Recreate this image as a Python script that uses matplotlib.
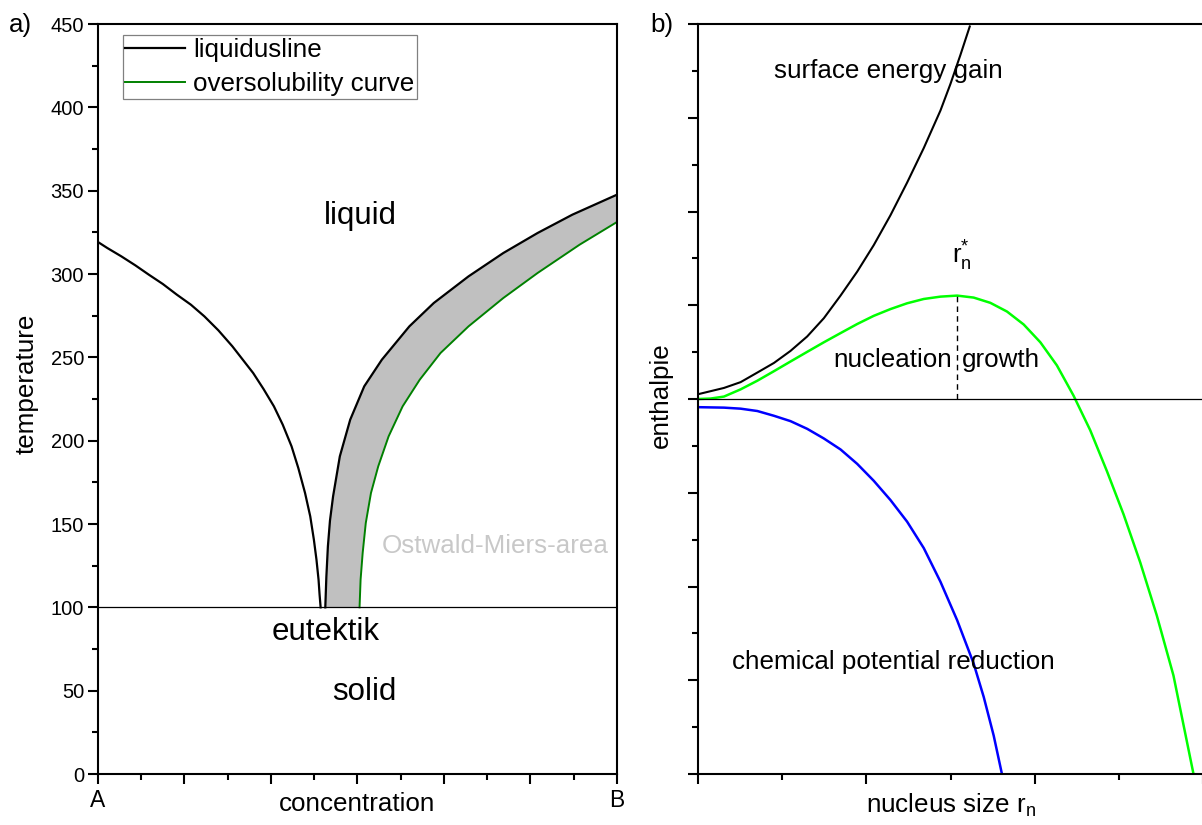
import matplotlib.pyplot as plt
import numpy as np
from matplotlib.ticker import MultipleLocator

plt.rcParams['font.family'] = ['Liberation Sans', 'DejaVu Sans']
plt.rcParams['mathtext.default'] = 'regular'

# a) phase diagram: concentration (0 = A, 1 = B) vs temperature
liq_left_c = [0.0, 0.018, 0.045, 0.072, 0.098, 0.125, 0.152, 0.179, 0.205, 0.232, 0.259, 0.279,
              0.299, 0.319, 0.339, 0.356, 0.373, 0.386, 0.399, 0.409, 0.416, 0.421, 0.425, 0.427, 0.429]
liq_left_T = [319.2, 315.6, 310.6, 305.2, 299.6, 294.0, 287.6, 281.6, 274.6, 266.2, 256.6, 248.6,
              240.6, 231.0, 220.6, 209.6, 196.6, 183.6, 168.6, 154.6, 140.6, 128.6, 116.6, 107.6, 100]
liq_right_c = [0.438, 0.440, 0.443, 0.447, 0.453, 0.466, 0.486, 0.513, 0.547, 0.600, 0.647,
               0.714, 0.781, 0.847, 0.914, 1.0]
liq_right_T = [100, 118.0, 136.6, 152.0, 166.6, 190.6, 212.6, 232.6, 248.6, 268.6, 282.6,
               298.6, 312.6, 324.6, 335.6, 347.6]
over_c = [0.504, 0.506, 0.510, 0.516, 0.526, 0.540, 0.560, 0.587, 0.620, 0.660, 0.714,
          0.781, 0.847, 0.928, 1.0]
over_T = [100, 116.6, 132.6, 150.6, 168.6, 184.6, 202.6, 220.6, 236.6, 252.6, 268.6,
          285.6, 300.6, 317.6, 331.2]
eutectic_T = 100
conc_ticks = [0, 1 / 6, 2 / 6, 3 / 6, 4 / 6, 5 / 6, 1]
conc_labels = ['A', '', '', '', '', '', 'B']

# b) enthalpy vs nucleus size
surf_r = [0.0, 0.154, 0.253, 0.352, 0.451, 0.549, 0.648, 0.747, 0.846, 0.945, 1.043,
          1.142, 1.241, 1.340, 1.439, 1.498, 1.557, 1.613]
surf_H = [0.051, 0.118, 0.18, 0.282, 0.385, 0.513, 0.667, 0.862, 1.103, 1.359, 1.641,
          1.959, 2.308, 2.677, 3.077, 3.359, 3.667, 3.974]
total_r = [0.0, 0.075, 0.154, 0.253, 0.352, 0.451, 0.549, 0.648, 0.747, 0.846, 0.945,
           1.043, 1.142, 1.241, 1.340, 1.439, 1.538, 1.636, 1.735, 1.834, 1.933, 2.032,
           2.130, 2.229, 2.328, 2.427, 2.526, 2.625, 2.723, 2.822, 2.941]
total_H = [0.0, 0.005, 0.026, 0.103, 0.195, 0.297, 0.40, 0.503, 0.605, 0.703, 0.80,
           0.887, 0.959, 1.021, 1.067, 1.092, 1.103, 1.082, 1.026, 0.933, 0.795, 0.605,
           0.359, 0.036, -0.333, -0.769, -1.231, -1.744, -2.308, -2.949, -4.0]
chem_r = [0.0, 0.154, 0.253, 0.352, 0.451, 0.549, 0.648, 0.747, 0.846, 0.945, 1.043,
          1.142, 1.241, 1.340, 1.439, 1.538, 1.636, 1.696, 1.755, 1.804]
chem_H = [-0.087, -0.092, -0.103, -0.128, -0.179, -0.236, -0.318, -0.421, -0.538, -0.692, -0.872,
          -1.077, -1.308, -1.590, -1.949, -2.359, -2.821, -3.179, -3.590, -4.0]
r_crit = 1.538
H_crit = 1.103

fig = plt.figure(figsize=(12.02, 8.25), dpi=100)
ax1 = fig.add_axes([0.0815, 0.0618, 0.4318, 0.9091])
ax2 = fig.add_axes([0.5807, 0.0618, 0.4205, 0.9091])

for ax in (ax1, ax2):
    for s in ax.spines.values():
        s.set_linewidth(1.5)
    ax.tick_params(which='major', direction='out', length=7, width=1.5, labelsize=14.5, pad=3,
                   top=False, right=False)
    ax.tick_params(which='minor', direction='out', length=4, width=1.5, top=False, right=False)

# ---- left panel
poly_c = np.concatenate([liq_right_c, over_c[::-1]])
poly_T = np.concatenate([liq_right_T, over_T[::-1]])
ax1.fill(poly_c, poly_T, color='#c0c0c0', lw=0)
ax1.plot(liq_left_c, liq_left_T, color='black', lw=1.6)
ax1.plot(liq_right_c, liq_right_T, color='black', lw=1.6, label='liquidusline')
ax1.plot(over_c, over_T, color='#008000', lw=1.4, label='oversolubility curve')
ax1.axhline(eutectic_T, color='black', lw=0.9)

ax1.set_xlim(0, 1)
ax1.set_ylim(0, 450)
ax1.yaxis.set_major_locator(MultipleLocator(50))
ax1.yaxis.set_minor_locator(MultipleLocator(25))
ax1.set_xticks(conc_ticks, conc_labels)
ax1.xaxis.set_minor_locator(MultipleLocator(1 / 12))
ax1.tick_params(axis='x', which='major', labelsize=16.5, pad=4)

ax1.set_xlabel('concentration', fontsize=18.7)
ax1.xaxis.set_label_coords(0.5, -0.024)
ax1.set_ylabel('temperature', fontsize=18.7)
ax1.yaxis.set_label_coords(-0.115, 0.52)

ax1.text(0.505, 335, 'liquid', fontsize=22.5, ha='center', va='center')
ax1.text(0.439, 85, 'eutektik', fontsize=22.5, ha='center', va='center')
ax1.text(0.513, 49, 'solid', fontsize=22.5, ha='center', va='center')
ax1.text(0.765, 137, 'Ostwald-Miers-area', fontsize=18.7, color='#c8c8c8', ha='center', va='center')

leg = ax1.legend(loc='upper left', bbox_to_anchor=(0.048, 0.985), borderaxespad=0,
                 fontsize=18.7, handlelength=2.3, handletextpad=0.3, borderpad=0.1,
                 labelspacing=0.4, fancybox=False, framealpha=1)
leg.get_frame().set_edgecolor('#808080')
leg.get_frame().set_linewidth(0.9)

# ---- right panel
ax2.plot(surf_r, surf_H, color='black', lw=1.5)
ax2.plot(total_r, total_H, color='#00ff00', lw=1.8)
ax2.plot(chem_r, chem_H, color='#0000ff', lw=1.8)
ax2.axhline(0, color='black', lw=0.9)
ax2.plot([r_crit, r_crit], [0, H_crit], color='black', lw=1.0, ls=(0, (4, 3)))

ax2.set_xlim(0, 3)
ax2.set_ylim(-4, 4)
ax2.xaxis.set_major_locator(MultipleLocator(1))
ax2.xaxis.set_minor_locator(MultipleLocator(0.5))
ax2.yaxis.set_major_locator(MultipleLocator(1))
ax2.yaxis.set_minor_locator(MultipleLocator(0.5))
ax2.tick_params(labelbottom=False, labelleft=False)
ax2.spines['right'].set_visible(False)

ax2.set_xlabel('nucleus size r$_\\mathregular{n}$', fontsize=18.7)
ax2.xaxis.set_label_coords(0.5, -0.024)
ax2.set_ylabel('enthalpie', fontsize=18.7)
ax2.yaxis.set_label_coords(-0.05, 0.505)

ax2.text(1.13, 3.5, 'surface energy gain', fontsize=18.7, ha='center', va='center')
ax2.text(1.51, 0.415, 'nucleation', fontsize=18.7, ha='right', va='center')
ax2.text(1.565, 0.415, 'growth', fontsize=18.7, ha='left', va='center')
ax2.text(1.16, -2.81, 'chemical potential reduction', fontsize=18.7, ha='center', va='center')
ax2.text(1.565, 1.53, 'r$_\\mathregular{n}^\\mathregular{*}$', fontsize=18.7, ha='center', va='center')

fig.text(0.007, 1 - 25 / 825, 'a)', fontsize=18.7, va='center')
fig.text(0.541, 1 - 25 / 825, 'b)', fontsize=18.7, va='center')

fig.savefig('out.png', dpi=100)
